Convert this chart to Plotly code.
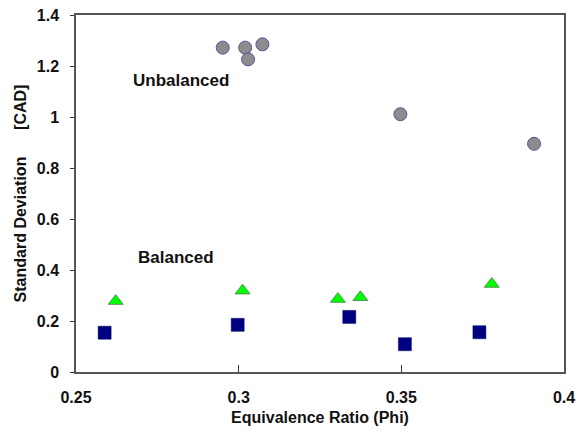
import plotly.graph_objects as go

# Unbalanced runs (circles)
unbal_phi = [0.2951, 0.3020, 0.3029, 0.3073, 0.3497, 0.3908]
unbal_sd = [1.272, 1.272, 1.226, 1.285, 1.011, 0.895]

# Balanced runs, first set (triangles)
bal_tri_phi = [0.2622, 0.3012, 0.3305, 0.3374, 0.3778]
bal_tri_sd = [0.278, 0.319, 0.286, 0.293, 0.345]

# Balanced runs, second set (squares)
bal_sq_phi = [0.2588, 0.2997, 0.3340, 0.3511, 0.3740]
bal_sq_sd = [0.154, 0.185, 0.216, 0.109, 0.156]

x_ticks = [0.25, 0.3, 0.35, 0.4]
x_tick_text = ["0.25", "0.3", "0.35", "0.4"]
y_ticks = [0, 0.2, 0.4, 0.6, 0.8, 1.0, 1.2, 1.4]
y_tick_text = ["0", "0.2", "0.4", "0.6", "0.8", "1", "1.2", "1.4"]

FONT = "Liberation Sans, Arial, sans-serif"

fig = go.Figure()
fig.add_trace(go.Scatter(
    x=unbal_phi, y=unbal_sd, mode="markers",
    marker=dict(symbol="circle", size=13, color="#8c8c8c",
                line=dict(color="#55559a", width=1)),
))
fig.add_trace(go.Scatter(
    x=bal_tri_phi, y=bal_tri_sd, mode="markers",
    marker=dict(symbol="triangle-up", size=13, color="#00ff00",
                line=dict(color="#4a7a4a", width=0.8)),
))
fig.add_trace(go.Scatter(
    x=bal_sq_phi, y=bal_sq_sd, mode="markers",
    marker=dict(symbol="square", size=13, color="#000080",
                line=dict(color="#000060", width=0.5)),
))

fig.add_annotation(x=0.2822, y=1.145, text="Unbalanced", showarrow=False,
                   font=dict(family=FONT, size=17, color="#111", weight="bold"))
fig.add_annotation(x=0.2807, y=0.448, text="Balanced", showarrow=False,
                   font=dict(family=FONT, size=17, color="#111", weight="bold"))

fig.update_layout(
    width=579, height=432,
    margin=dict(l=76, r=15, t=15, b=60, autoexpand=False),
    paper_bgcolor="white", plot_bgcolor="white",
    showlegend=False,
    font=dict(family=FONT, size=16, color="#111", weight="bold"),
)
fig.update_xaxes(
    range=[0.25, 0.4], tickvals=x_ticks, ticktext=x_tick_text,
    ticks="inside", ticklen=7, tickcolor="#333",
    showline=True, linecolor="#555", linewidth=1.5, mirror=True,
    showgrid=False, zeroline=False, automargin=False,
    ticklabelstandoff=10,
    tickfont=dict(family=FONT, size=16, weight="bold"),
    title=dict(text="Equivalence Ratio (Phi)", standoff=7,
               font=dict(family=FONT, size=16, weight="bold")),
)
fig.update_yaxes(
    range=[0, 1.4], tickvals=y_ticks, ticktext=y_tick_text,
    ticks="outside", ticklen=4, tickcolor="#333",
    showline=True, linecolor="#555", linewidth=1.5, mirror=True,
    showgrid=False, zeroline=False, automargin=False,
    ticklabelstandoff=8,
    tickfont=dict(family=FONT, size=16, weight="bold"),
    title=dict(text="Standard Deviation      [CAD]", standoff=6,
               font=dict(family=FONT, size=16, weight="bold")),
)

fig.write_html("out.html")
